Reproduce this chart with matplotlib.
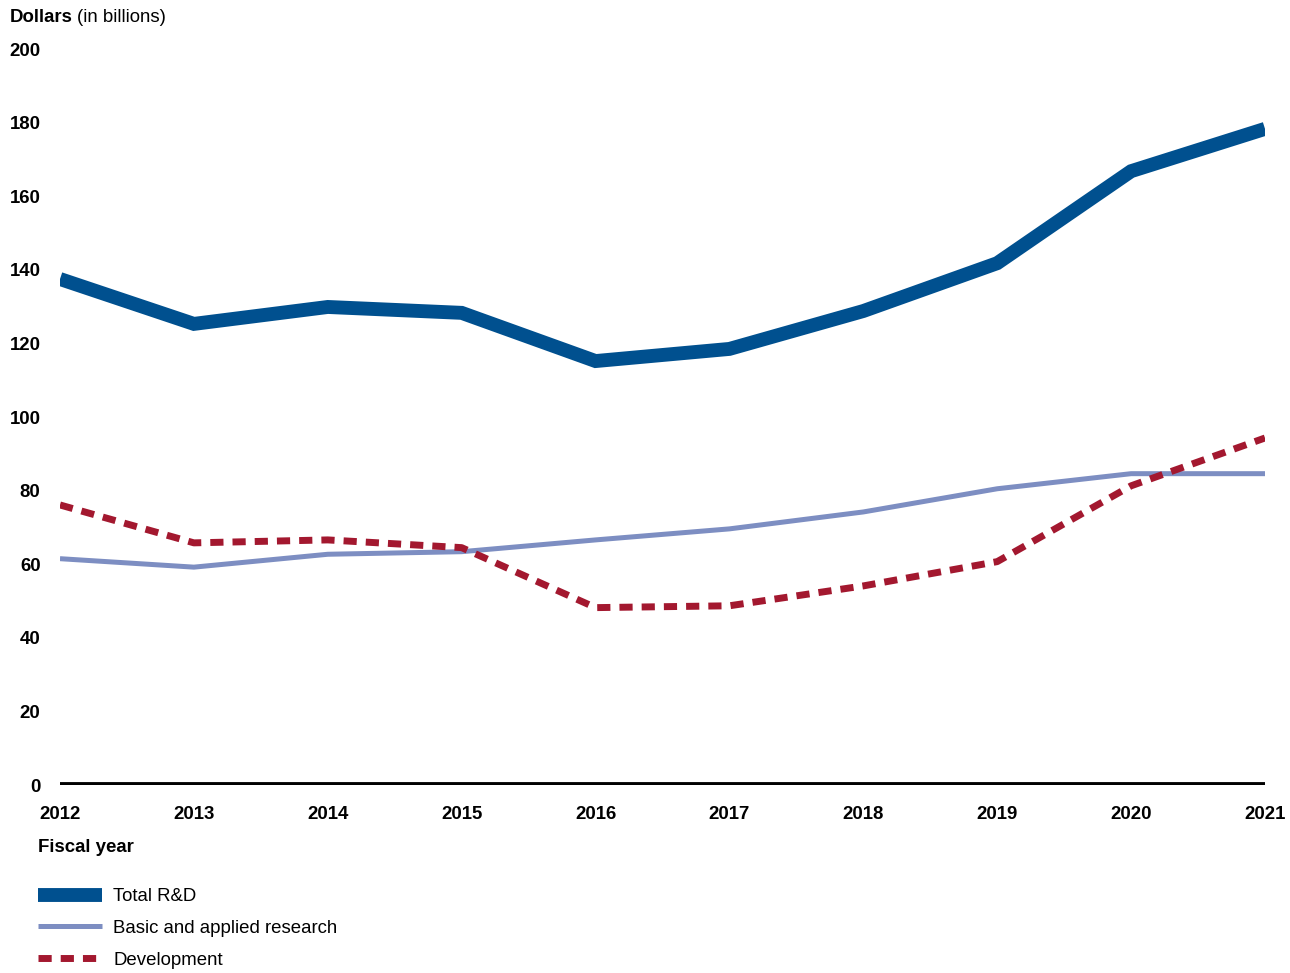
import matplotlib
matplotlib.use("Agg")
import matplotlib.pyplot as plt
from matplotlib.lines import Line2D

plt.rcParams['font.family'] = ['Liberation Sans', 'DejaVu Sans']

years = [2012, 2013, 2014, 2015, 2016, 2017, 2018, 2019, 2020, 2021]
total_rd = [137.5, 125.3, 129.9, 128.3, 115.2, 118.5, 128.8, 141.8, 166.8, 178.3]
basic_applied = [61.5, 59.2, 62.7, 63.4, 66.6, 69.6, 74.2, 80.5, 84.6, 84.6]
development = [76.1, 65.8, 66.6, 64.5, 48.2, 48.7, 54.1, 60.7, 81.3, 94.3]
yticks = [0, 20, 40, 60, 80, 100, 120, 140, 160, 180, 200]

c_total = '#00508F'
c_basic = '#7D8EC2'
c_dev = '#A3182F'
fs = 13.4

fig = plt.figure(figsize=(12.9, 9.73), dpi=100)
ax = fig.add_axes([60/1290, 1-785/973, 1205/1290, 736/973])

ax.plot(years, total_rd, color=c_total, lw=10, solid_joinstyle='miter', solid_capstyle='butt', zorder=3)
ax.plot(years, basic_applied, color=c_basic, lw=3.6, solid_capstyle='butt', zorder=2)
ax.plot(years, development, color=c_dev, lw=5, dashes=(1.9, 1.3), dash_capstyle='butt', zorder=2)
ax.axhline(0, color='black', lw=4.2, zorder=4, solid_capstyle='butt')

ax.set_xlim(2012, 2021)
ax.set_ylim(0, 200)
ax.set_yticks(yticks)
ax.set_xticks(years)
for s in ax.spines.values():
    s.set_visible(False)
ax.tick_params(length=0)
ax.set_yticklabels([str(v) for v in yticks], fontsize=fs, fontweight='bold')
ax.set_xticklabels([str(y) for y in years], fontsize=fs, fontweight='bold')
ax.tick_params(axis='y', pad=14)
ax.tick_params(axis='x', pad=15)

fig.text(10/1290, 1-17/973, 'Dollars', fontsize=fs, fontweight='bold', va='center', ha='left')
fig.text(77/1290, 1-17/973, '(in billions)', fontsize=fs, va='center', ha='left')
fig.text(38/1290, 1-848/973, 'Fiscal year', fontsize=fs, fontweight='bold', va='center', ha='left')

# legend
handles = [
    Line2D([], [], color=c_total, lw=10, solid_capstyle='butt'),
    Line2D([], [], color=c_basic, lw=3.6, solid_capstyle='butt'),
    Line2D([], [], color=c_dev, lw=5, dashes=(1.9, 1.3), dash_capstyle='butt'),
]
labels = ['Total R&D', 'Basic and applied research', 'Development']
fig.legend(handles, labels, loc='upper left', bbox_to_anchor=(38/1290, 1-888/973),
           frameon=False, fontsize=fs, handlelength=3.45, handletextpad=0.6,
           labelspacing=0.8, borderaxespad=0, borderpad=0)

fig.savefig('out.png', dpi=100)
